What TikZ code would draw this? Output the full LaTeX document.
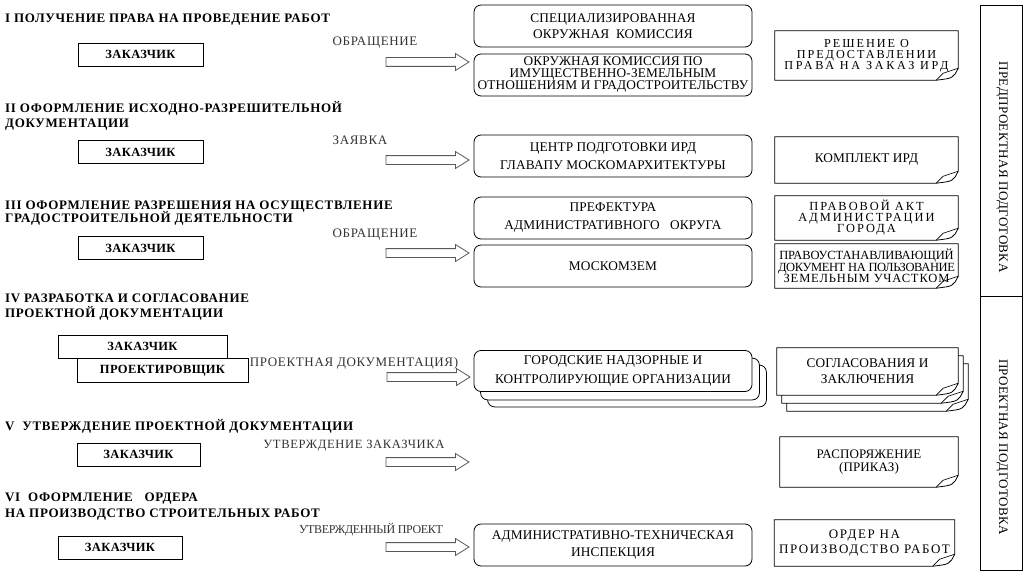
\documentclass[tikz,border=0pt]{standalone}
\usepackage{fontspec}
\setmainfont{Liberation Serif}
\newfontfamily\hdfont[LetterSpace=5]{Liberation Serif}
\newfontfamily\zkfont[LetterSpace=3]{Liberation Serif}
\newfontfamily\bxfont[LetterSpace=1]{Liberation Serif}
\newfontfamily\wdfont[LetterSpace=16]{Liberation Serif}
\newfontfamily\wwfont[LetterSpace=22]{Liberation Serif}
\newfontfamily\mdfont[LetterSpace=12]{Liberation Serif}
\newfontfamily\msfont[LetterSpace=7]{Liberation Serif}
\newfontfamily\cdfont[LetterSpace=-3]{Liberation Serif}
\newfontfamily\cefont[LetterSpace=-1]{Liberation Serif}
\newfontfamily\lbfont[LetterSpace=5]{Liberation Serif}
\newfontfamily\vtfont[LetterSpace=3]{Liberation Serif}
\usetikzlibrary{shapes.arrows,calc}
\pgfdeclarelayer{bg}
\pgfsetlayers{bg,main}
\newcommand\docpath[3]{%
  \draw[line width=0.8pt, fill=white]
    ($(#1.north west)+(#2,#3)$) -- ($(#1.north east)+(#2,#3)$)
    -- ($(#1.south east)+(#2,#3-12)$)
    .. controls ($(#1.south east)+(#2-5,#3-2)$) .. ($(#1.south east)+(#2-22,#3)$)
    -- ($(#1.south west)+(#2,#3)$) -- cycle;
  \draw[line width=0.6pt]
    ($(#1.south east)+(#2,#3-12)$) -- ($(#1.south east)+(#2-15,#3-7)$)
    -- ($(#1.south east)+(#2-22,#3)$);
}
\begin{document}
\begin{tikzpicture}[x=1pt,y=-1pt,
  hdr/.style={anchor=base west, inner sep=0pt, font=\hdfont\bfseries\fontsize{13}{15}\selectfont},
  zbox/.style={draw, line width=0.8pt, minimum width=125pt, minimum height=23pt, inner sep=0pt,
    font=\zkfont\bfseries\fontsize{12.5}{14}\selectfont},
  rbox/.style={draw, fill=white, rounded corners=7pt, line width=0.8pt, minimum width=278pt,
    minimum height=42pt, inner sep=0pt, align=center},
  lbl/.style={inner sep=0pt, text=black!80, font=\lbfont\fontsize{13}{15}\selectfont},
  barrow/.style={single arrow, draw=black!65, line width=0.8pt, minimum height=83pt,
    inner xsep=0pt, inner ysep=4pt, single arrow head extend=4pt, single arrow tip angle=64},
  docn/.style={minimum width=183pt, minimum height=47pt, inner sep=0pt, align=center},
  vbox/.style={draw, line width=0.8pt, minimum width=42pt, inner sep=0pt},
  vtext/.style={rotate=-90, inner sep=0pt, font=\vtfont\fontsize{13}{15}\selectfont},
]
\useasboundingbox (0,0) rectangle (1032,583);

% headers
\node[hdr] (h1) at (5,22.5) {I ПОЛУЧЕНИЕ ПРАВА НА ПРОВЕДЕНИЕ РАБОТ};
\node[hdr] (h2a) at (5,113) {II ОФОРМЛЕНИЕ ИСХОДНО-РАЗРЕШИТЕЛЬНОЙ};
\node[hdr] (h2b) at (5,127.5) {ДОКУМЕНТАЦИИ};
\node[hdr] (h3a) at (5,209) {III ОФОРМЛЕНИЕ РАЗРЕШЕНИЯ НА ОСУЩЕСТВЛЕНИЕ};
\node[hdr] (h3b) at (5,222.5) {ГРАДОСТРОИТЕЛЬНОЙ ДЕЯТЕЛЬНОСТИ};
\node[hdr] (h4a) at (5,302) {IV РАЗРАБОТКА И СОГЛАСОВАНИЕ};
\node[hdr] (h4b) at (5,317) {ПРОЕКТНОЙ ДОКУМЕНТАЦИИ};
\node[hdr] (h5) at (5,430) {V\ \ УТВЕРЖДЕНИЕ ПРОЕКТНОЙ ДОКУМЕНТАЦИИ};
\node[hdr] (h6a) at (5,501) {VI\ \ ОФОРМЛЕНИЕ\ \ \ ОРДЕРА};
\node[hdr] (h6b) at (5,517) {НА ПРОИЗВОДСТВО СТРОИТЕЛЬНЫХ РАБОТ};

% client boxes
\node[zbox] (z1) at (140.5,54.5) {ЗАКАЗЧИК};
\node[zbox] (z2) at (140.5,152) {ЗАКАЗЧИК};
\node[zbox] (z3) at (140.5,248) {ЗАКАЗЧИК};
\node[zbox, minimum width=169pt] (z4) at (142.5,346.5) {ЗАКАЗЧИК};
\node[zbox, minimum width=171pt, minimum height=24pt] (p4) at (162.5,370.5) {ПРОЕКТИРОВЩИК};
\node[zbox, minimum width=123pt] (z5) at (138.5,454.5) {ЗАКАЗЧИК};
\node[zbox, minimum width=124pt] (z6) at (120,547.5) {ЗАКАЗЧИК};

% labels
\node[lbl] (l1) at (375,43) {ОБРАЩЕНИЕ};
\node[lbl] (l2) at (360,140) {ЗАЯВКА};
\node[lbl] (l3) at (375,235) {ОБРАЩЕНИЕ};
\node[lbl] (l4) at (354,363) {ПРОЕКТНАЯ ДОКУМЕНТАЦИЯ)};
\node[lbl, font=\lbfont\fontsize{12.6}{15}\selectfont] (l5) at (354,446) {УТВЕРЖДЕНИЕ ЗАКАЗЧИКА};
\node[lbl, font=\cdfont\fontsize{12}{13}\selectfont] (l6) at (371,530) {УТВЕРЖДЕННЫЙ ПРОЕКТ};

% block arrows
\node[barrow] (a1) at (424,62) {};
\node[barrow] (a2) at (424,160) {};
\node[barrow] (a3) at (424,253) {};
\node[barrow] (a4) at (425,377) {};
\node[barrow] (a5) at (424,462) {};
\node[barrow] (a6) at (424,547) {};

% rounded boxes
\node[rbox, font=\bxfont\fontsize{13.3}{16}\selectfont] (rA) at (613,26) {СПЕЦИАЛИЗИРОВАННАЯ\\ОКРУЖНАЯ\ \ КОМИССИЯ};
\node[rbox, font=\bxfont\fontsize{13.3}{12}\selectfont] (rB) at (613,75) {ОКРУЖНАЯ КОМИССИЯ ПО\\ИМУЩЕСТВЕННО-ЗЕМЕЛЬНЫМ\\ОТНОШЕНИЯМ И ГРАДОСТРОИТЕЛЬСТВУ};
\node[rbox, font=\bxfont\fontsize{13.3}{18}\selectfont] (rC) at (613,156) {ЦЕНТР ПОДГОТОВКИ ИРД\\ГЛАВАПУ МОСКОМАРХИТЕКТУРЫ};
\node[rbox, font=\bxfont\fontsize{13.3}{18}\selectfont] (rD) at (613,218) {ПРЕФЕКТУРА\\АДМИНИСТРАТИВНОГО\ \ \ ОКРУГА};
\node[rbox, font=\bxfont\fontsize{13.3}{18}\selectfont] (rE) at (613,266) {МОСКОМЗЕМ};
\node[rbox, minimum height=41pt, font=\bxfont\fontsize{13.3}{19}\selectfont] (rF) at (613,371) {ГОРОДСКИЕ НАДЗОРНЫЕ И\\КОНТРОЛИРУЮЩИЕ ОРГАНИЗАЦИИ};
\node[rbox, font=\bxfont\fontsize{13.3}{17}\selectfont] (rG) at (613,545) {АДМИНИСТРАТИВНО-ТЕХНИЧЕСКАЯ\\ИНСПЕКЦИЯ};
\begin{pgfonlayer}{bg}
  \draw[line width=0.8pt, fill=white, rounded corners=7pt]
    ($(rF.north west)+(14,15)$) rectangle ($(rF.south east)+(14,15)$);
  \draw[line width=0.8pt, fill=white, rounded corners=7pt]
    ($(rF.north west)+(7,8)$) rectangle ($(rF.south east)+(7,8)$);
\end{pgfonlayer}

% documents
\node[docn, minimum height=49pt, font=\wdfont\fontsize{12.2}{11}\selectfont] (d1) at (866.5,55.5) {РЕШЕНИЕ О\\ПРЕДОСТАВЛЕНИИ\\{\wwfont ПРАВА НА ЗАКАЗ ИРД}};
\node[docn, minimum height=46pt, font=\bxfont\fontsize{13.3}{15}\selectfont] (d2) at (866.5,160) {КОМПЛЕКТ ИРД};
\node[docn, minimum height=44pt, font=\wdfont\fontsize{12.4}{11}\selectfont] (d3) at (866.5,218) {ПРАВОВОЙ АКТ\\АДМИНИСТРАЦИИ\\ГОРОДА};
\node[docn, minimum height=44pt, font=\cefont\fontsize{12.5}{11.5}\selectfont] (d4) at (866.5,266) {ПРАВОУСТАНАВЛИВАЮЩИЙ\\{\cdfont ДОКУМЕНТ НА ПОЛЬЗОВАНИЕ}\\{\msfont ЗЕМЕЛЬНЫМ УЧАСТКОМ}};
\node[docn, minimum width=181pt, font=\bxfont\fontsize{13.3}{16}\selectfont] (d5) at (867.5,371.5) {СОГЛАСОВАНИЯ И\\ЗАКЛЮЧЕНИЯ};
\node[docn, minimum width=178pt, minimum height=50pt, font=\bxfont\fontsize{13}{13}\selectfont] (d6) at (869,462) {РАСПОРЯЖЕНИЕ\\(ПРИКАЗ)};
\node[docn, minimum width=180pt, minimum height=46pt, font=\mdfont\fontsize{13}{15}\selectfont] (d7) at (864.5,543) {ОРДЕР НА\\ПРОИЗВОДСТВО РАБОТ};
\begin{pgfonlayer}{bg}
  \docpath{d1}{0}{0}
  \docpath{d2}{0}{0}
  \docpath{d3}{0}{0}
  \docpath{d4}{0}{0}
  \docpath{d5}{10}{16}
  \docpath{d5}{5}{8}
  \docpath{d5}{0}{0}
  \docpath{d6}{0}{0}
  \docpath{d7}{0}{0}
\end{pgfonlayer}

% stage boxes
\node[vbox, minimum height=291pt] (v1) at (1001,150.5) {};
\node[vbox, minimum height=274pt] (v2) at (1001,433) {};
\node[vtext] (v1t) at (1002,167) {ПРЕДПРОЕКТНАЯ ПОДГОТОВКА};
\node[vtext] (v2t) at (1002,447) {ПРОЕКТНАЯ ПОДГОТОВКА};
\end{tikzpicture}
\end{document}
